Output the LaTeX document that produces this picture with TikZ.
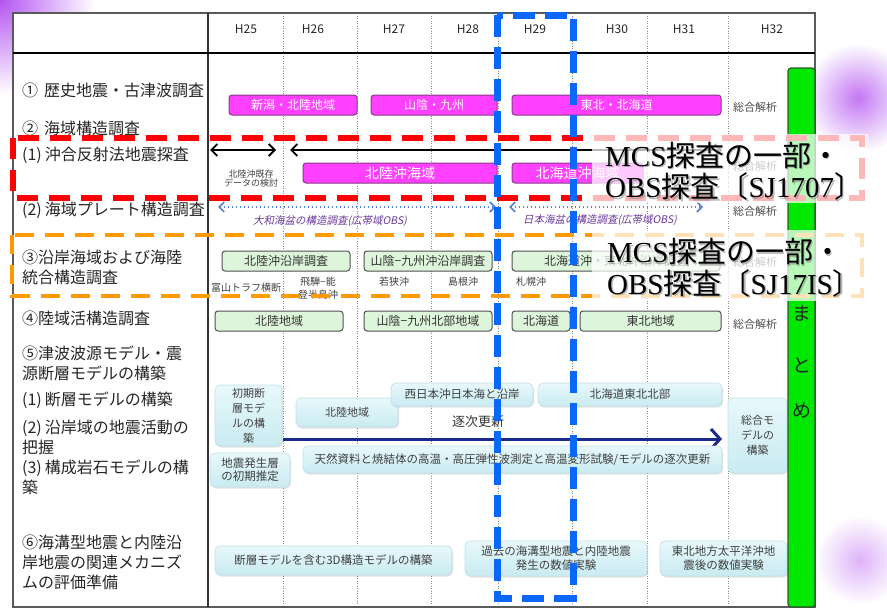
\documentclass[tikz,border=0pt]{standalone}
\usepackage{fontspec}
\setmainfont{Noto Sans CJK JP}
\newfontfamily\serfont{Liberation Serif}
\newfontfamily\cjkslant[FakeSlant=0.2]{Noto Sans CJK JP}
\usetikzlibrary{arrows.meta,shadows}
\definecolor{magfill}{HTML}{FF40FF}
\definecolor{magdraw}{HTML}{8A3A8A}
\definecolor{grnfill}{HTML}{DDF5DA}
\definecolor{grndraw}{HTML}{505050}
\definecolor{cyantop}{HTML}{E8F8FB}
\definecolor{cyanbot}{HTML}{C9EBF1}
\definecolor{cyandraw}{HTML}{BFE0E8}
\definecolor{bluedash}{HTML}{0A68F8}
\definecolor{reddash}{HTML}{FF0000}
\definecolor{orgdash}{HTML}{FF9A00}
\definecolor{gbar}{HTML}{00E800}
\definecolor{gbardraw}{HTML}{2A5A2A}
\definecolor{navy}{HTML}{1A2A8E}
\definecolor{dotblue}{HTML}{5A80D0}
\definecolor{obspurple}{HTML}{6A3A9A}
\definecolor{glow}{HTML}{B455F0}
\definecolor{gridgray}{HTML}{8A8A8A}
\definecolor{tblgray}{HTML}{5A5A5A}
\newcommand\mybx[7]{%
  \pgfmathsetmacro\bxcx{(#3+#5)/2}%
  \pgfmathsetmacro\bxcy{(#4+#6)/2}%
  \pgfmathsetmacro\bxw{#5-#3}%
  \pgfmathsetmacro\bxh{#6-#4}%
  \node[#1, minimum width=\bxw pt, minimum height=\bxh pt] (#2) at (\bxcx,\bxcy) {#7};}
\tikzset{
  tbl/.style={draw=tblgray, line width=1.2pt},
  gridln/.style={draw=gridgray, line width=0.7pt, dash pattern=on 1pt off 1.5pt},
  hdr/.style={font=\fontsize{12}{14}\selectfont, text=black!85, inner sep=0pt},
  lefttxt/.style={anchor=west, align=left, font=\fontsize{16}{20}\selectfont, text=black!85, inner sep=0pt},
  magbar/.style={rounded corners=3pt, fill=magfill, draw=magdraw, line width=1pt, text=white, font=\fontsize{12}{14}\selectfont, inner sep=0pt},
  grnbox/.style={rounded corners=3pt, fill=grnfill, draw=grndraw, line width=1pt, text=black!80, font=\fontsize{12}{14}\selectfont, inner sep=0pt},
  cyanbox/.style={rounded corners=5pt, top color=cyantop, bottom color=cyanbot, draw=cyandraw, line width=0.6pt, drop shadow={opacity=0.22,shadow xshift=1pt,shadow yshift=-1.5pt}, text=black!75, font=\fontsize{11}{15}\selectfont, align=center, inner sep=0pt},
  smalltxt/.style={font=\fontsize{10}{13}\selectfont, text=black!75, align=center, inner sep=0pt},
  tinytxt/.style={font=\fontsize{9}{11}\selectfont, text=black!75, align=center, inner sep=0pt},
  sogo/.style={font=\fontsize{11}{13}\selectfont, text=black!70, inner sep=0pt},
  obslbl/.style={font=\cjkslant\fontsize{10.5}{12}\selectfont, text=obspurple, inner sep=0pt},
  blkarrow/.style={line width=1.8pt, arrows={Straight Barb[length=6pt,width=12pt]-Straight Barb[length=6pt,width=12pt]}},
  dotarrow/.style={draw=dotblue, line width=1.6pt, dash pattern=on 1.5pt off 2.5pt, arrows={Straight Barb[length=5pt,width=10pt]-Straight Barb[length=5pt,width=10pt]}},
  navyarrow/.style={draw=navy, line width=3pt, arrows={-Straight Barb[length=9pt,width=20pt]}},
  gbartxt/.style={font=\fontsize{19}{20}\selectfont, text=black!85, inner sep=0pt},
  callout/.style={anchor=west, align=left, inner sep=0pt, font=\fontsize{29}{31.5}\selectfont},
}
\begin{document}
\begin{tikzpicture}[x=1pt,y=-1pt]
\useasboundingbox (0,0) rectangle (887,613);
% glows
\shade[inner color=glow, outer color=white] (0,0) circle (95);
\shade[inner color=glow!80, outer color=white] (858,98) circle (55);
\shade[inner color=glow!45, outer color=white] (860,560) circle (45);
% table
\fill[white] (13,13) rectangle (815,607);
\foreach \x in {283,357,431,498,572,647,728} \draw[gridln] (\x,13) -- (\x,607);
\draw[tbl] (13,13) rectangle (815,607);
\draw[line width=1.2pt, draw=black!80] (208,13) -- (208,607);
\draw[line width=2pt, black] (13,53) -- (815,53);
% header
\node[hdr] (h25) at (246,29) {H25};
\node[hdr] (h26) at (313,29) {H26};
\node[hdr] (h27) at (394,29) {H27};
\node[hdr] (h28) at (468,29) {H28};
\node[hdr] (h29) at (535,29) {H29};
\node[hdr] (h30) at (617,29) {H30};
\node[hdr] (h31) at (684,29) {H31};
\node[hdr] (h32) at (772,29) {H32};
% left column
\node[lefttxt] (L1) at (22,90) {①\hspace{6pt}歴史地震・古津波調査};
\node[lefttxt] (L2) at (22,128) {②\hspace{6pt}海域構造調査};
\node[lefttxt] (L3) at (22,155) {(1)\hspace{3pt}沖合反射法地震探査};
\node[lefttxt] (L4) at (22,210) {(2)\hspace{3pt}海域プレート構造調査};
\node[lefttxt] (L5) at (22,267.5) {③沿岸海域および海陸\\統合構造調査};
\node[lefttxt] (L6) at (22,318) {④陸域活構造調査};
\node[lefttxt] (L7) at (22,363) {⑤津波波源モデル・震\\源断層モデルの構築};
\node[lefttxt] (L8) at (22,400) {(1)\hspace{3pt}断層モデルの構築};
\node[lefttxt] (L9) at (22,437) {(2)\hspace{3pt}沿岸域の地震活動の\\把握};
\node[lefttxt] (L10) at (22,477.5) {(3)\hspace{3pt}構成岩石モデルの構\\築};
\node[lefttxt] (L11) at (22,562) {⑥海溝型地震と内陸沿\\岸地震の関連メカニズ\\ムの評価準備};
% row 1
\mybx{magbar}{b1a}{229}{95}{357}{115}{新潟・北陸地域}
\mybx{magbar}{b1b}{371}{95}{497}{115}{山陰・九州}
\mybx{magbar}{b1c}{512}{95}{721}{115}{東北・北海道}
\node[sogo] (s1) at (755,107) {総合解析};
% row (1) MCS
\coordinate (a1l) at (210,150); \coordinate (a1r) at (276,150);
\coordinate (a2l) at (290,150); \coordinate (a2r) at (722,150);
\draw[blkarrow] (a1l) -- (a1r);
\draw[blkarrow] (a2l) -- (a2r);
\node[tinytxt] (kizon) at (251,178.5) {北陸沖既存\\[-2pt]データの検討};
\mybx{magbar, font=\fontsize{14}{16}\selectfont}{b2a}{303}{163}{497}{183}{北陸沖海域}
\mybx{magbar, font=\fontsize{14}{16}\selectfont}{b2b}{512}{163}{643}{183}{北海道沖海域}
\node[sogo] (s1b) at (755,166) {総合解析};
% row (2) plate
\coordinate (d1l) at (218,207); \coordinate (d1r) at (496,207);
\coordinate (d2l) at (509,207); \coordinate (d2r) at (703,207);
\draw[dotarrow] (d1l) -- (d1r);
\draw[dotarrow] (d2l) -- (d2r);
\node[obslbl] (o1) at (330,221) {大和海盆の構造調査(広帯域OBS)};
\node[obslbl] (o2) at (600,220) {日本海盆の構造調査(広帯域OBS)};
\node[sogo] (s2) at (755,211) {総合解析};
% row 3
\mybx{grnbox}{g3a}{222}{251}{350}{271}{北陸沖沿岸調査}
\mybx{grnbox}{g3b}{364}{251}{492}{271}{山陰−九州沖沿岸調査}
\mybx{grnbox}{g3c}{512}{251}{720}{271}{北海道沖・東北沖沿岸調査}
\node[sogo] (s3) at (755,262) {総合解析};
\node[smalltxt] (t1) at (246,288) {富山トラフ横断};
\node[smalltxt] (t2) at (318,288.5) {飛騨−能\\登半島沖};
\node[smalltxt] (t3) at (394,282) {若狭沖};
\node[smalltxt] (t4) at (463,282) {島根沖};
\node[smalltxt] (t5) at (531,282) {札幌沖};
% row 4
\mybx{grnbox}{g4a}{215}{311}{343}{331}{北陸地域}
\mybx{grnbox}{g4b}{364}{311}{492}{331}{山陰−九州北部地域}
\mybx{grnbox}{g4c}{512}{311}{570}{331}{北海道}
\mybx{grnbox}{g4d}{580}{311}{721}{331}{東北地域}
\node[sogo] (s4) at (755,324) {総合解析};
% row 5
\mybx{cyanbox}{c1}{215}{385}{282}{446}{初期断\\層モデ\\ルの構\\築}
\mybx{cyanbox, font=\fontsize{11.5}{13}\selectfont}{c2}{210}{453}{290}{487}{地震発生層\\の初期推定}
\mybx{cyanbox}{c3}{296}{398}{398}{427}{北陸地域}
\mybx{cyanbox, font=\fontsize{11.5}{14}\selectfont}{c4}{391}{383}{533}{406}{西日本沖日本海と沿岸}
\mybx{cyanbox, font=\fontsize{11.5}{14}\selectfont}{c5}{538}{383}{722}{406}{北海道東北北部}
\node[font=\fontsize{13}{15}\selectfont, text=black!80, inner sep=0pt] (zj) at (478,422) {逐次更新};
\coordinate (n1) at (283,439); \coordinate (n2) at (722,439);
\draw[navyarrow] (n1) -- (n2);
\mybx{cyanbox, font=\fontsize{11.5}{14}\selectfont}{c6}{303}{446}{722}{473}{天然資料と焼結体の高温・高圧弾性波測定と高温変形試験/モデルの逐次更新}
\mybx{cyanbox}{c7}{728}{398}{787}{473}{総合モ\\デルの\\構築}
% row 6
\mybx{cyanbox, font=\fontsize{11.5}{14}\selectfont}{c8}{215}{546}{452}{575}{断層モデルを含む3D構造モデルの構築}
\mybx{cyanbox, font=\fontsize{11.5}{14}\selectfont}{c9}{465}{541}{647}{576}{過去の海溝型地震と内陸地震\\発生の数値実験}
\mybx{cyanbox, font=\fontsize{11.5}{14}\selectfont}{c10}{660}{541}{787}{576}{東北地方太平洋沖地\\震後の数値実験}
% green bar
\mybx{rounded corners=3pt, fill=gbar, draw=gbardraw, line width=1.2pt, inner sep=0pt}{gb}{788}{68}{815}{607}{}
\node[gbartxt] (m1) at (802,313) {ま};
\node[gbartxt] (m2) at (802,365) {と};
\node[gbartxt] (m3) at (802,410) {め};
% dashed highlight frames
\draw[reddash, line width=6pt, dash pattern=on 21pt off 11pt] (13,138) rectangle (862,198);
\draw[orgdash, line width=4.5pt, dash pattern=on 19pt off 11pt] (12,235) rectangle (862,296);
\draw[bluedash, line width=7pt, dash pattern=on 22pt off 10pt] (497,15) rectangle (573,598);
% callouts
\fill[white, opacity=0.72] (592,134) rectangle (868,203);
\fill[white, opacity=0.72] (592,230) rectangle (868,301);
\node[callout, text=black!50, opacity=0.55] (co1s) at (606.5,172.5) {{\serfont MCS}探査の一部・\\{\serfont OBS}探査〔{\serfont SJ1707}〕};
\node[callout] (co1) at (605,171) {{\serfont MCS}探査の一部・\\{\serfont OBS}探査〔{\serfont SJ1707}〕};
\node[callout, text=black!50, opacity=0.55] (co2s) at (608.5,269) {{\serfont MCS}探査の一部・\\{\serfont OBS}探査〔{\serfont SJ17IS}〕};
\node[callout] (co2) at (607,267.5) {{\serfont MCS}探査の一部・\\{\serfont OBS}探査〔{\serfont SJ17IS}〕};
\end{tikzpicture}
\end{document}
